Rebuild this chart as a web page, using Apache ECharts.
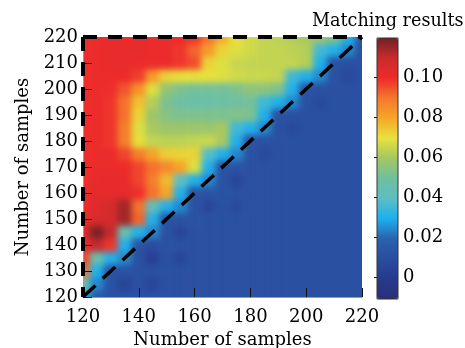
<!DOCTYPE html>
<html>
<head>
<meta charset="utf-8">
<script src="https://cdn.jsdelivr.net/npm/echarts@6/dist/echarts.min.js"></script>
<style>
  body { margin: 0; background: #fff; }
  #page { position: relative; width: 465px; height: 348px; overflow: hidden; }
  /* heatmap sits under the axes, clipped to the plot box and softened */
  #clip { position: absolute; left: 83px; top: 37px; width: 279px; height: 260px; overflow: hidden; }
  #heat { position: absolute; left: -34.875px; top: -32.5px; width: 348.75px; height: 325px; filter: blur(3.4px); }
  #axes { position: absolute; left: 0; top: 0; width: 465px; height: 348px; }
</style>
</head>
<body>
<div id="page">
  <div id="clip"><div id="heat"></div></div>
  <div id="axes"></div>
</div>
<script>
var samples = [120,125,130,135,140,145,150,155,160,165,170,175,180,185,190,195,200,205,210,215,220];
var rowsY = [220,215,210,205,200,195,190,185,180,175,170,165,160,155,150,145,140,135,130,125,120];
// one row per rowsY entry, one value per samples entry
var matching = [
  [.099,.100,.100,.100,.100,.100,.100,.100,.098,.090,.078,.070,.066,.064,.063,.062,.060,.058,.052,.030,.014],
  [.099,.100,.101,.101,.101,.100,.100,.098,.092,.082,.072,.068,.066,.064,.064,.063,.062,.035,.030,.024,.012],
  [.099,.100,.101,.101,.100,.100,.100,.098,.095,.072,.068,.065,.064,.064,.064,.064,.062,.030,.012,.011,.011],
  [.099,.100,.100,.100,.097,.082,.072,.070,.070,.070,.068,.066,.065,.065,.064,.035,.030,.024,.012,.008,.011],
  [.099,.100,.099,.094,.084,.068,.056,.052,.050,.050,.050,.052,.055,.055,.052,.030,.012,.011,.011,.011,.011],
  [.099,.100,.098,.090,.075,.062,.052,.048,.047,.047,.048,.049,.050,.035,.030,.024,.012,.008,.011,.011,.011],
  [.099,.100,.098,.090,.072,.058,.054,.052,.052,.052,.052,.053,.052,.030,.012,.011,.011,.011,.011,.011,.011],
  [.099,.100,.098,.088,.068,.060,.058,.058,.058,.058,.060,.035,.030,.024,.011,.008,.011,.011,.011,.011,.011],
  [.099,.100,.098,.088,.070,.064,.063,.063,.064,.065,.060,.030,.012,.011,.011,.011,.011,.011,.011,.011,.011],
  [.099,.100,.100,.096,.088,.080,.073,.072,.072,.038,.030,.024,.012,.008,.011,.011,.011,.011,.011,.011,.011],
  [.099,.100,.100,.100,.096,.090,.086,.080,.068,.030,.012,.012,.011,.011,.011,.011,.011,.011,.011,.011,.011],
  [.099,.101,.102,.101,.096,.088,.076,.040,.030,.024,.012,.006,.011,.011,.011,.011,.011,.011,.011,.011,.011],
  [.100,.102,.102,.102,.099,.090,.080,.030,.012,.012,.012,.011,.011,.011,.011,.011,.011,.011,.011,.011,.011],
  [.100,.104,.106,.114,.090,.042,.030,.024,.012,.006,.011,.008,.011,.011,.011,.011,.011,.011,.011,.011,.011],
  [.101,.105,.106,.114,.092,.030,.012,.012,.012,.011,.011,.011,.011,.011,.011,.011,.011,.011,.011,.011,.011],
  [.103,.118,.110,.045,.030,.024,.012,.006,.011,.011,.011,.011,.011,.011,.011,.011,.011,.011,.011,.011,.011],
  [.100,.110,.098,.030,.012,.009,.012,.011,.011,.011,.011,.011,.011,.011,.011,.011,.011,.011,.011,.011,.011],
  [.096,.045,.030,.024,.011,.003,.011,.006,.011,.011,.011,.011,.011,.011,.011,.011,.011,.011,.011,.011,.011],
  [.090,.030,.012,.012,.011,.011,.011,.011,.011,.011,.011,.011,.011,.011,.011,.011,.011,.011,.011,.011,.011],
  [.045,.024,.012,.005,.011,.006,.011,.011,.011,.011,.011,.011,.011,.011,.011,.011,.011,.011,.011,.011,.011],
  [.030,.015,.012,.012,.011,.011,.011,.011,.011,.011,.011,.011,.011,.011,.011,.011,.011,.011,.011,.011,.011]
];
var colorTicks = [0, 0.02, 0.04, 0.06, 0.08, 0.10];
var colorMin = -0.011, colorMax = 0.1195;
var jetColors = ['#2a2f78','#253a8e','#2a4c9f','#2a62ad','#1cb0ee','#5cbec4','#6fbf9f',
                 '#a3c663','#e6e33c','#f6a629','#f4782d','#ee2b2b','#c92b2d','#702124'];
var diagonalLine = [[120,120],[220,220]];
var topLine = [[120,220],[220,220]];
var leftLine = [[120,220],[120,120]];

var serif = 'DejaVu Serif';

// two extra cells on each side repeat the edge, so the blur does not fade at the plot border
var pad = 2;
var heatData = [];
var padIndex = [];
for (var i = 0; i < samples.length + 2 * pad; i++) padIndex.push(i);
for (var r = -pad; r < rowsY.length + pad; r++) {
  for (var c = -pad; c < samples.length + pad; c++) {
    var rr = Math.min(Math.max(r, 0), rowsY.length - 1);
    var cc = Math.min(Math.max(c, 0), samples.length - 1);
    heatData.push([c + pad, rowsY.length - 1 - r + pad, matching[rr][cc]]);
  }
}

var heatChart = echarts.init(document.getElementById('heat'));
heatChart.setOption({
  animation: false,
  grid: { left: 0, right: 0, top: 0, bottom: 0, outerBoundsMode: 'none' },
  xAxis: { type: 'category', data: padIndex, show: false },
  yAxis: { type: 'category', data: padIndex, show: false },
  visualMap: { show: false, min: colorMin, max: colorMax, inRange: { color: jetColors } },
  series: [{ type: 'heatmap', data: heatData, progressive: 0, silent: true }]
});

function dashed(points, width, dash) {
  return {
    type: 'line', data: points, xAxisIndex: 0, yAxisIndex: 0, symbol: 'none', clip: false, silent: true,
    lineStyle: { color: '#000', width: width, type: dash }
  };
}

var axisText = { color: '#000', fontFamily: serif, fontSize: 18 };
var nameText = { color: '#000', fontFamily: serif, fontSize: 18 };

var axesChart = echarts.init(document.getElementById('axes'));
axesChart.setOption({
  animation: false,
  title: { text: 'Matching results', left: 312, top: 12, padding: 0,
    textStyle: { color: '#000', fontFamily: serif, fontSize: 17.6, fontWeight: 'normal' } },
  grid: [
    { left: 83, top: 37, width: 279, height: 260, outerBoundsMode: 'none' },
    { left: 377, top: 38, width: 21, height: 261, outerBoundsMode: 'none', show: true, z: 5, borderColor: '#333', borderWidth: 1, backgroundColor: 'transparent' }
  ],
  xAxis: [
    { type: 'value', gridIndex: 0, min: 120, max: 220, interval: 20,
      name: 'Number of samples', nameLocation: 'middle', nameGap: 33, nameTextStyle: nameText,
      splitLine: { show: false },
      axisLine: { onZero: false, lineStyle: { color: '#999' } },
      axisTick: { inside: true, length: 9, lineStyle: { color: '#111' } },
      axisLabel: Object.assign({ margin: 11 }, axisText) },
    { type: 'value', gridIndex: 1, show: false, min: 0, max: 1 }
  ],
  yAxis: [
    { type: 'value', gridIndex: 0, min: 120, max: 220, interval: 10,
      name: 'Number of samples', nameLocation: 'middle', nameGap: 50, nameTextStyle: nameText,
      splitLine: { show: false },
      axisLine: { lineStyle: { color: '#999' } },
      axisTick: { inside: true, length: 9, lineStyle: { color: '#111' } },
      axisLabel: Object.assign({ margin: 5 }, axisText) },
    { type: 'value', gridIndex: 1, position: 'right', min: colorMin, max: colorMax,
      splitLine: { show: false },
      axisLine: { show: false },
      axisTick: { inside: true, length: 3, customValues: colorTicks, lineStyle: { color: '#222' } },
      axisLabel: Object.assign({ margin: 5, customValues: colorTicks,
        formatter: function (v) { return v === 0 ? '0' : v.toFixed(2); } }, axisText) }
  ],
  visualMap: {
    type: 'continuous', seriesIndex: [], show: true, min: colorMin, max: colorMax,
    left: 377, top: 38, itemWidth: 21, itemHeight: 261, padding: 0, z: 1,
    calculable: false, text: null, showLabel: false, inRange: { color: jetColors }
  },
  series: [dashed(diagonalLine, 3.5, [17, 10]), dashed(topLine, 4, [14, 11]), dashed(leftLine, 4, [14, 11])]
});
</script>
</body>
</html>
